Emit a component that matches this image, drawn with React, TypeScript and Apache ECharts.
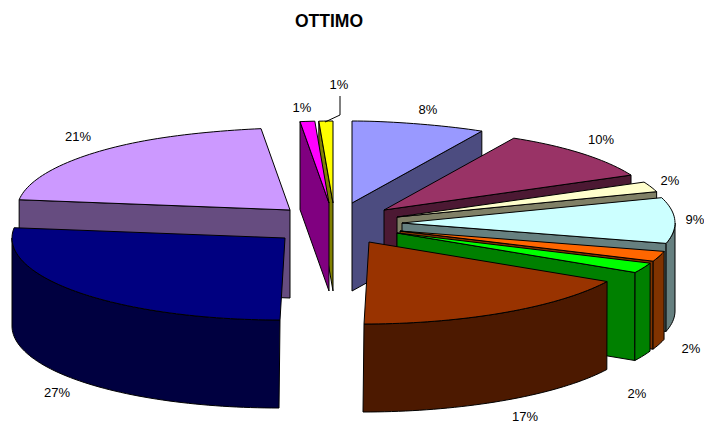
import React, { useEffect, useRef } from "react";
import * as echarts from "echarts";

// --- data
const chartTitle = "OTTIMO";
const sliceValues = [8, 10, 2, 9, 2, 2, 17, 27, 21, 1, 1];
const topColors = ["#9999FF", "#993366", "#FFFFCC", "#CCFFFF", "#FF6600", "#00FF00", "#993300", "#000080", "#CC99FF", "#FF00FF", "#FFFF00"];
const wallColors = ["#4C4C80", "#4C1933", "#808066", "#668080", "#803300", "#008000", "#4C1900", "#000040", "#664C80", "#800080", "#808000"];

// --- layout
const paintOrder = [0, 1, 2, 3, 4, 5, 6, 10, 9, 8, 7];
const apexX = [352, 384, 397, 402, 400, 397, 369, 285, 290, 329, 333];
const apexY = [203, 210, 217, 223, 231, 233, 242, 238, 210, 203, 203];
const labelX = [428, 601, 670, 695, 691, 637, 525, 57, 78, 302, 339];
const labelY = [109, 139, 180, 219, 348, 393, 416, 392, 136, 107, 84];
const RX = 273;
const RY = 82;
const DEPTH = 88;
const FONT = "'Liberation Sans', Arial, sans-serif";
const total = sliceValues.reduce((a, b) => a + b, 0);

function rim(i: number, deg: number, h: number): number[] {
  const t = (deg * Math.PI) / 180;
  const c = Math.cos(t);
  const pinch = c > 0 ? 1 - 0.18 * Math.pow(c, 20) : 1;
  const front = c < 0 ? c * c : 0;
  const lean = -5 * front - (h > 0 ? 1 * front : 0);
  return [apexX[i] + RX * Math.sin(t) * pinch + lean, apexY[i] - RY * c + h];
}

function arc(i: number, from: number, to: number, h: number): number[][] {
  const n = Math.max(2, Math.ceil(Math.abs(to - from) / 1.5));
  const pts: number[][] = [];
  for (let k = 0; k <= n; k++) pts.push(rim(i, from + ((to - from) * k) / n, h));
  return pts;
}

const renderSlice = (_p: any, api: any) => {
  const i = api.value(0);
  let cum = 0;
  for (let k = 0; k < i; k++) cum += sliceValues[k];
  const a0 = (cum / total) * 360;
  const a1 = ((cum + api.value(1)) / total) * 360;
  const ax = apexX[i];
  const ay = apexY[i];
  const edge = { stroke: "#000", lineWidth: 1, lineJoin: "round" };
  const children: any[] = [];
  const radial = (deg: number) => {
    const r0 = rim(i, deg, 0);
    const r1 = rim(i, deg, DEPTH);
    children.push({
      type: "polygon",
      shape: { points: [[ax, ay], r0, r1, [ax, ay + DEPTH]] },
      style: { fill: wallColors[i], ...edge },
    });
  };
  if (Math.sin((a0 * Math.PI) / 180) < -1e-6) radial(a0);
  if (Math.sin((a1 * Math.PI) / 180) > 1e-6) radial(a1);
  const w0 = Math.max(a0, 90);
  const w1 = Math.min(a1, 270);
  if (w1 > w0) {
    children.push({
      type: "polygon",
      shape: { points: [...arc(i, w0, w1, 0), ...arc(i, w0, w1, DEPTH).reverse()] },
      style: { fill: wallColors[i], ...edge },
    });
  }
  children.push({
    type: "polygon",
    shape: { points: [[ax, ay], ...arc(i, a0, a1, 0)] },
    style: { fill: topColors[i], ...edge },
  });
  children.push({
    type: "text",
    style: {
      text: `${api.value(1)}%`,
      x: labelX[i],
      y: labelY[i],
      align: "center",
      verticalAlign: "middle",
      font: `13px ${FONT}`,
      fill: "#000",
    },
  });
  return { type: "group", children };
};

export default function App() {
  const ref = useRef<HTMLDivElement>(null);
  useEffect(() => {
    document.body.style.margin = "0";
    const chart = echarts.init(ref.current!, undefined, { renderer: "svg" });
    chart.setOption({
      animation: false,
      backgroundColor: "#fff",
      title: {
        text: chartTitle,
        left: 324,
        top: 7,
        textAlign: "center",
        textStyle: { fontFamily: FONT, fontSize: 17.5, fontWeight: "bold", color: "#000" },
      },
      graphic: [
        {
          type: "polyline",
          z: 10,
          shape: { points: [[340, 96], [340, 115], [325, 122]] },
          style: { stroke: "#000", lineWidth: 1, fill: "none" },
        },
      ],
      series: [
        {
          type: "custom",
          coordinateSystem: "none",
          silent: true,
          renderItem: renderSlice,
          data: paintOrder.map((i) => [i, sliceValues[i]]),
        },
      ],
    });
    return () => chart.dispose();
  }, []);
  return <div ref={ref} style={{ position: "absolute", left: 0, top: 0, width: 704, height: 423 }} />;
}
